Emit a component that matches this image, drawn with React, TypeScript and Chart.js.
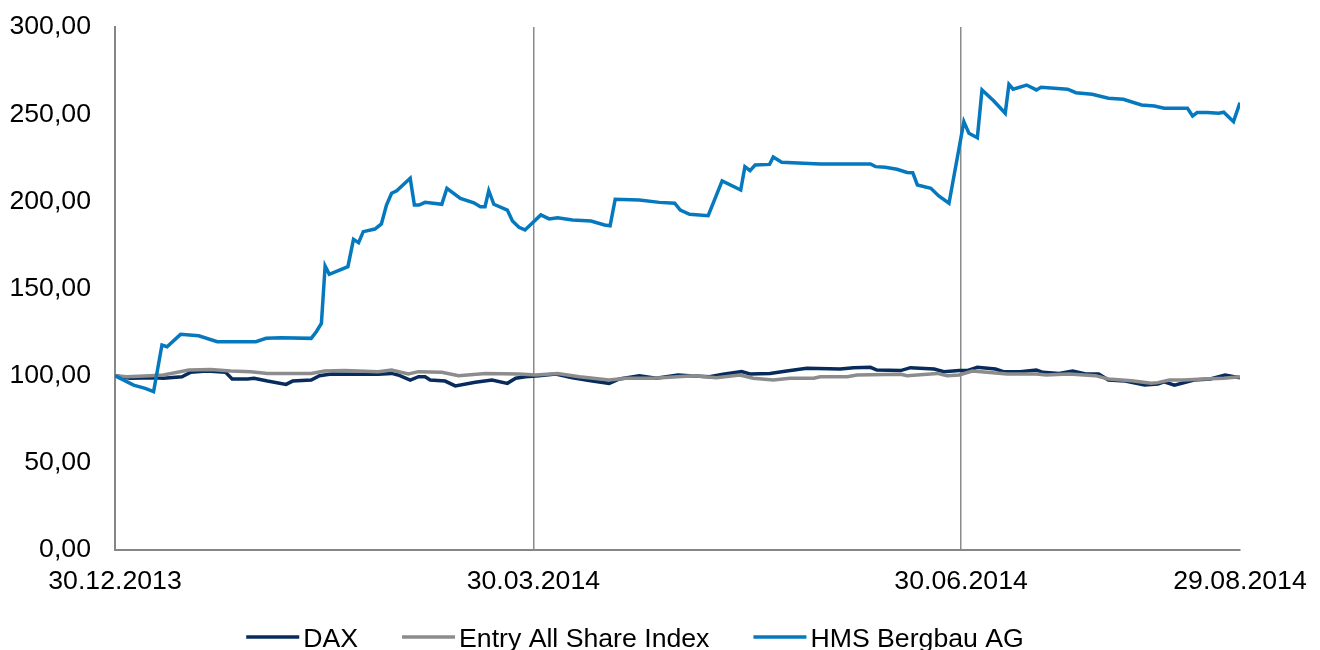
import React, { useEffect, useRef } from 'react';
import { Chart, registerables } from 'chart.js';

Chart.register(...registerables);

const FONT = "'Liberation Sans', Arial, Helvetica, sans-serif";
const FONT_SIZE = 26.67;

// X axis: days counted from 30.12.2013
const tickDays = [0, 90, 182, 242];
const tickLabels = ['30.12.2013', '30.03.2014', '30.06.2014', '29.08.2014'];
const gridDays = [90, 182];

const seriesNames = ['DAX', 'Entry All Share Index', 'HMS Bergbau AG'];
const seriesColors = ['#072c5c', '#8c8c8c', '#0678be'];

const daxDays = [
  0, 3.2, 8.3, 10.4, 14.4, 16.2, 19.8, 23.8, 25.2, 28.5, 29.9, 32.8, 36.8, 38.2, 42.2, 44.0, 46.5,
  52.3, 56.6, 59.5, 60.9, 63.5, 65.3, 66.7, 67.8, 71.0, 73.2, 77.5, 81.1, 84.4, 86.2, 88.3,
  91.2, 94.8, 98.4, 102.7, 106.3, 108.5, 112.8, 116.4, 121.1, 123.6, 127.9, 130.8, 134.8, 136.6,
  140.9, 144.5, 148.8, 156.0, 158.9, 162.5, 163.9, 169.0, 171.1, 176.2, 178.3, 181.6,
  183.3, 185.5, 189.4, 191.1, 194.7, 198.2, 199.6, 203.1, 206.0, 208.8, 211.6, 213.7, 217.3,
  221.5, 224.3, 225.7, 227.9, 232.1, 235.6, 238.8, 242,
];
const daxValues = [
  100, 98.5, 98.8, 98.5, 99.4, 101.9, 102.7, 101.9, 98.1, 98.1, 98.5, 96.9, 95.0, 96.9, 97.5, 100.0, 101.0,
  100.8, 100.8, 101.3, 100.4, 97.5, 99.4, 99.4, 97.5, 96.9, 94.1, 96.2, 97.5, 95.6, 98.5, 99.4,
  100.0, 101.0, 98.8, 96.9, 95.6, 98.1, 100.0, 98.5, 100.4, 100.0, 99.4, 100.8, 102.3, 101.0,
  101.3, 102.7, 104.2, 103.8, 104.6, 104.8, 103.2, 102.9, 104.6, 103.8, 102.3, 102.9,
  102.9, 104.8, 103.8, 102.3, 102.3, 103.2, 101.9, 101.3, 102.7, 101.0, 101.0, 97.5, 96.9,
  94.6, 95.2, 96.5, 94.6, 97.5, 98.1, 100.4, 98.8,
];

const entryDays = [
  0, 2.5, 7.6, 10.4, 15.9, 20.6, 24.9, 29.2, 32.8, 37.9, 42.2, 45.1, 49.4, 56.6, 59.5, 63.1, 65.3,
  70.3, 73.9, 79.7, 86.9, 90.5, 95.2, 99.9, 106.3, 109.9, 115.7, 121.1, 124.4, 129.4, 134.4,
  137.3, 141.6, 145.2, 150.3, 151.7, 157.5, 159.6, 169.0, 170.4, 176.9, 179.0, 181.6,
  184.4, 187.6, 191.9, 198.2, 200.3, 205.2, 210.9, 213.7, 218.7, 222.9, 224.3, 226.8, 229.9,
  234.2, 238.5, 242,
];
const entryValues = [
  100, 99.4, 100.0, 100.4, 103.2, 103.6, 102.7, 102.3, 101.3, 101.3, 101.3, 102.7, 102.9, 102.3, 103.2, 101.0, 102.3,
  101.9, 100.0, 101.3, 101.0, 100.4, 101.3, 99.4, 97.5, 98.5, 98.5, 99.4, 100.0, 98.8, 100.4,
  98.5, 97.5, 98.5, 98.5, 99.4, 99.4, 100.4, 100.8, 100.0, 101.3, 100.0, 100.4,
  102.7, 101.9, 101.0, 101.0, 100.4, 101.0, 100.0, 98.1, 97.1, 95.6, 96.0, 97.5, 97.5,
  98.1, 98.5, 99.4,
];

const hmsDays = [
  0, 4.0, 6.5, 8.3, 10.1, 11.2, 14.1, 18.0, 22.0, 30.3, 32.5, 35.7, 42.2, 43.3, 44.4, 45.2, 46.1,
  50.1, 51.3, 52.4, 53.4, 55.9, 57.3, 58.4, 59.5, 60.6, 63.5, 64.4, 65.4, 66.7, 70.3, 71.4,
  74.3, 77.2, 78.6, 79.6, 80.4, 81.5, 84.4, 85.5, 86.9, 88.2,
  91.6, 93.4, 95.2, 98.4, 102.4, 105.3, 106.5, 107.6, 112.8, 117.1, 120.4, 121.6, 123.6, 127.6,
  130.6, 134.6, 135.5, 136.6, 137.7, 140.8, 141.6, 143.4, 151.7, 162.5, 163.6, 165.7, 168.2,
  170.4, 171.6, 172.6, 175.5, 177.2, 179.4,
  182.6, 183.7, 185.5, 186.5, 189.0, 191.5, 192.3, 193.2, 196.1, 198.2, 199.2, 204.9, 206.7,
  210.2, 213.7, 216.9, 220.8, 223.6, 225.7, 230.7, 231.8, 232.8, 234.9, 237.4, 238.5, 240.6, 242,
];
const hmsValues = [
  100, 94.6, 92.7, 90.8, 117.6, 116.6, 123.7, 122.9, 119.5, 119.5, 121.4, 121.8, 121.4, 125.2, 130.0, 162.9, 158.1,
  162.5, 178.2, 176.3, 182.6, 184.1, 187.0, 197.9, 204.6, 206.1, 213.2, 197.9, 197.9, 199.4, 198.3, 207.5,
  201.7, 199.2, 196.9, 196.9, 206.1, 198.3, 195.0, 188.7, 185.1, 183.6,
  192.2, 189.9, 190.6, 189.3, 188.7, 186.4, 186.0, 201.2, 200.8, 199.4, 198.9, 195.0, 192.6, 191.8,
  211.7, 206.5, 219.9, 217.6, 220.8, 221.2, 225.4, 222.4, 221.4, 221.4, 219.9, 219.5, 218.4,
  216.6, 216.4, 209.4, 207.5, 203.1, 198.9,
  245.7, 239.0, 236.5, 263.9, 257.7, 250.5, 267.1, 264.3, 266.7, 263.9, 265.4, 264.3, 262.3,
  261.4, 259.1, 258.5, 255.3, 254.7, 253.4, 253.4, 249.0, 250.9, 250.9, 250.5, 251.1, 245.7, 256.6,
];

const toPoints = (days: number[], values: number[]) =>
  days.map((d, i) => ({ x: d, y: values[i] }));

// Legend drawn like the original (line sample, short gap, label)
const legendPlugin = {
  id: 'bottomLegend',
  afterDraw(chart: any) {
    const ctx = chart.ctx;
    const lineLen = 53;
    const textGap = 4;
    const itemGap = 44;
    const cy = 637;
    ctx.save();
    ctx.font = `${FONT_SIZE}px ${FONT}`;
    const items = chart.data.datasets.map((ds: any) => ({
      label: ds.label,
      color: ds.borderColor,
      width: ds.borderWidth,
      textW: ctx.measureText(ds.label).width,
    }));
    const total =
      items.reduce((s: number, it: any) => s + lineLen + textGap + it.textW, 0) +
      itemGap * (items.length - 1);
    let x = chart.width / 2 - 25 - total / 2;
    items.forEach((it: any) => {
      ctx.beginPath();
      ctx.strokeStyle = it.color;
      ctx.lineWidth = it.width;
      ctx.moveTo(x, cy);
      ctx.lineTo(x + lineLen, cy);
      ctx.stroke();
      ctx.fillStyle = '#000';
      ctx.textAlign = 'left';
      ctx.textBaseline = 'alphabetic';
      ctx.fillText(it.label, x + lineLen + textGap, cy + 9.5);
      x += lineLen + textGap + it.textW + itemGap;
    });
    ctx.restore();
  },
};

export default function App() {
  const canvasRef = useRef<HTMLCanvasElement | null>(null);

  useEffect(() => {
    if (!canvasRef.current) return;
    const seriesData = [
      toPoints(daxDays, daxValues),
      toPoints(entryDays, entryValues),
      toPoints(hmsDays, hmsValues),
    ];
    const chart = new Chart(canvasRef.current, {
      type: 'line',
      data: {
        datasets: seriesNames.map((name, i) => ({
          label: name,
          data: seriesData[i],
          borderColor: seriesColors[i],
          backgroundColor: seriesColors[i],
          borderWidth: 3.5,
          pointRadius: 0,
          tension: 0,
          fill: false,
          order: 3 - i,
        })),
      },
      plugins: [legendPlugin],
      options: {
        animation: false,
        responsive: false,
        layout: { padding: { left: 4, right: 80, top: 27, bottom: 0 } },
        plugins: {
          tooltip: { enabled: false },
          legend: { display: false },
        },
        scales: {
          x: {
            type: 'linear',
            min: 0,
            max: 242,
            afterBuildTicks: (s: any) => {
              s.ticks = tickDays.map((v) => ({ value: v }));
            },
            afterFit: (s: any) => {
              s.height = 100;
            },
            ticks: {
              autoSkip: false,
              maxRotation: 0,
              minRotation: 0,
              padding: 0,
              color: '#000',
              font: { size: FONT_SIZE, family: FONT },
              callback: (v: any) => {
                const i = tickDays.indexOf(Number(v));
                return i >= 0 ? tickLabels[i] : '';
              },
            },
            grid: {
              drawTicks: true,
              tickLength: 16,
              tickColor: 'rgba(0,0,0,0)',
              lineWidth: 1.5,
              color: (ctx: any) =>
                ctx.tick && gridDays.includes(ctx.tick.value) ? '#8a8a8a' : 'rgba(0,0,0,0)',
            },
            border: { display: true, color: '#868686', width: 2 },
          },
          y: {
            min: 0,
            max: 300,
            afterFit: (s: any) => {
              s.width = 111;
            },
            ticks: {
              stepSize: 50,
              padding: 0,
              color: '#000',
              font: { size: FONT_SIZE, family: FONT },
              callback: (v: any) => Number(v).toFixed(2).replace('.', ','),
            },
            grid: {
              display: true,
              drawOnChartArea: false,
              drawTicks: true,
              tickLength: 24,
              tickColor: 'rgba(0,0,0,0)',
              color: 'rgba(0,0,0,0)',
            },
            border: { display: true, color: '#868686', width: 2 },
          },
        },
      },
    });
    return () => chart.destroy();
  }, []);

  return (
    <div style={{ position: 'fixed', left: 0, top: 0, width: 1320, height: 650, background: '#fff' }}>
      <canvas ref={canvasRef} width={1320} height={650} style={{ display: 'block' }} />
    </div>
  );
}
